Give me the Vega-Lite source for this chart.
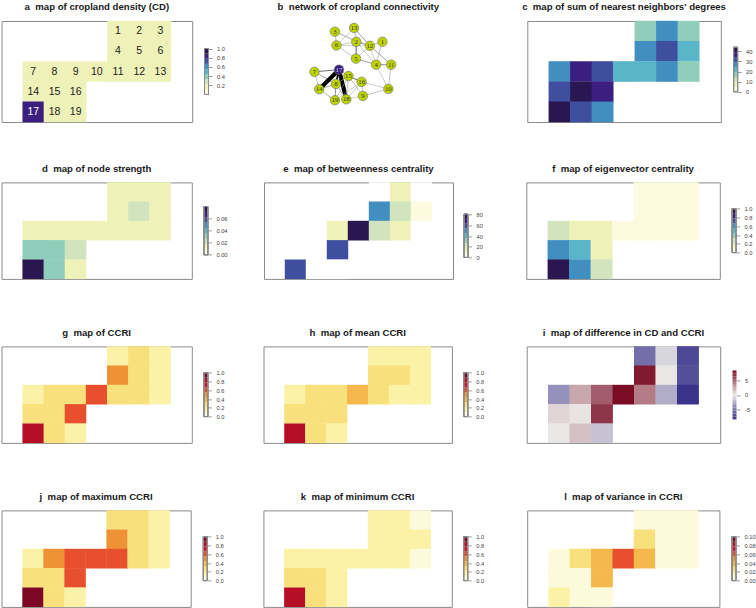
{"$schema":"https://vega.github.io/schema/vega-lite/v6.json","padding":{"left":0.5,"top":1,"right":0,"bottom":0},"background":"white",
"config":{"view":{"stroke":"#8a8a8a","strokeWidth":1},"title":{"font":"Liberation Sans","fontSize":9.6,"fontWeight":"bold","color":"#1a1a1a","offset":9,"anchor":"middle"},"axis":{"domain":false,"grid":false,"tickSize":3.5,"tickWidth":0.6,"tickColor":"#555555","labelFont":"Liberation Sans","labelFontSize":5.7,"labelColor":"#444444","labelPadding":4.5,"labelFlush":false,"labelBound":false}},
"datasets":{
"cells":[
{"cell":1,"col":4,"row":0,"cd":0.15,"snn":17.1,"strength":0.0133,"betweenness":0,"eigen":0.056,"ccri":0.167,"mean":0.167,"diff":-5.6,"max":0.278,"min":0.167,"variance":0.0056},
{"cell":2,"col":5,"row":0,"cd":0.15,"snn":26.9,"strength":0.0133,"betweenness":13.5,"eigen":0.056,"ccri":0.278,"mean":0.167,"diff":-0.8,"max":0.278,"min":0.167,"variance":0.0056},
{"cell":3,"col":6,"row":0,"cd":0.15,"snn":17.1,"strength":0.0133,"betweenness":0,"eigen":0.056,"ccri":0.167,"mean":0.167,"diff":-7.4,"max":0.167,"min":0.056,"variance":0.0056},
{"cell":4,"col":4,"row":1,"cd":0.15,"snn":26.9,"strength":0.0133,"betweenness":49.5,"eigen":0.056,"ccri":0.5,"mean":0.278,"diff":8.0,"max":0.5,"min":0.167,"variance":0.0278},
{"cell":5,"col":5,"row":1,"cd":0.15,"snn":31.8,"strength":0.0222,"betweenness":22.5,"eigen":0.056,"ccri":0.278,"mean":0.278,"diff":0,"max":0.278,"min":0.167,"variance":0.0056},
{"cell":6,"col":6,"row":1,"cd":0.15,"snn":22,"strength":0.0133,"betweenness":4.5,"eigen":0.056,"ccri":0.167,"mean":0.167,"diff":-7.1,"max":0.167,"min":0.167,"variance":0.0056},
{"cell":7,"col":0,"row":2,"cd":0.15,"snn":26.9,"strength":0.0133,"betweenness":0,"eigen":0.278,"ccri":0.167,"mean":0.167,"diff":-4,"max":0.167,"min":0.167,"variance":0.0056},
{"cell":8,"col":1,"row":2,"cd":0.15,"snn":36.7,"strength":0.0133,"betweenness":0,"eigen":0.167,"ccri":0.278,"mean":0.278,"diff":2.5,"max":0.5,"min":0.167,"variance":0.0278},
{"cell":9,"col":2,"row":2,"cd":0.15,"snn":31.8,"strength":0.0133,"betweenness":13.5,"eigen":0.167,"ccri":0.278,"mean":0.278,"diff":5.4,"max":0.611,"min":0.167,"variance":0.0389},
{"cell":10,"col":3,"row":2,"cd":0.15,"snn":22,"strength":0.0133,"betweenness":76.5,"eigen":0.056,"ccri":0.611,"mean":0.389,"diff":8.5,"max":0.611,"min":0.167,"variance":0.0611},
{"cell":11,"col":4,"row":2,"cd":0.15,"snn":22,"strength":0.0133,"betweenness":22.5,"eigen":0.056,"ccri":0.278,"mean":0.278,"diff":4.2,"max":0.611,"min":0.167,"variance":0.0389},
{"cell":12,"col":5,"row":2,"cd":0.15,"snn":26.9,"strength":0.0133,"betweenness":13.5,"eigen":0.056,"ccri":0.278,"mean":0.167,"diff":-2.7,"max":0.278,"min":0.167,"variance":0.0056},
{"cell":13,"col":6,"row":2,"cd":0.15,"snn":17.1,"strength":0.0133,"betweenness":0,"eigen":0.056,"ccri":0.167,"mean":0.167,"diff":-8.4,"max":0.167,"min":0.056,"variance":0.0056},
{"cell":14,"col":0,"row":3,"cd":0.15,"snn":31.8,"strength":0.0311,"betweenness":0,"eigen":0.611,"ccri":0.278,"mean":0.278,"diff":0.7,"max":0.278,"min":0.278,"variance":0.0056},
{"cell":15,"col":1,"row":3,"cd":0.15,"snn":41.6,"strength":0.0311,"betweenness":0,"eigen":0.5,"ccri":0.278,"mean":0.278,"diff":0.1,"max":0.278,"min":0.278,"variance":0.0056},
{"cell":16,"col":2,"row":3,"cd":0.15,"snn":36.7,"strength":0.0222,"betweenness":58.5,"eigen":0.167,"ccri":0.611,"mean":0.278,"diff":6.9,"max":0.611,"min":0.167,"variance":0.0389},
{"cell":17,"col":0,"row":4,"cd":0.83,"snn":41.6,"strength":0.0756,"betweenness":58.5,"eigen":0.944,"ccri":0.833,"mean":0.833,"diff":0,"max":0.944,"min":0.833,"variance":0.0167},
{"cell":18,"col":1,"row":4,"cd":0.15,"snn":31.8,"strength":0.0311,"betweenness":0,"eigen":0.611,"ccri":0.278,"mean":0.278,"diff":1.5,"max":0.278,"min":0.278,"variance":0.0056},
{"cell":19,"col":2,"row":4,"cd":0.15,"snn":26.9,"strength":0.0133,"betweenness":0,"eigen":0.278,"ccri":0.167,"mean":0.167,"diff":-1.7,"max":0.167,"min":0.167,"variance":0.0056}],
"unitBins":[{"lo":0,"hi":0.111,"mid":0.056},{"lo":0.111,"hi":0.222,"mid":0.167},{"lo":0.222,"hi":0.333,"mid":0.278},{"lo":0.333,"hi":0.444,"mid":0.389},{"lo":0.444,"hi":0.556,"mid":0.5},{"lo":0.556,"hi":0.667,"mid":0.611},{"lo":0.667,"hi":0.778,"mid":0.722},{"lo":0.778,"hi":0.889,"mid":0.833},{"lo":0.889,"hi":1,"mid":0.944}],
"snnBins":[{"lo":0,"hi":4.89,"mid":2.4},{"lo":4.89,"hi":9.78,"mid":7.3},{"lo":9.78,"hi":14.67,"mid":12.2},{"lo":14.67,"hi":19.56,"mid":17.1},{"lo":19.56,"hi":24.44,"mid":22},{"lo":24.44,"hi":29.33,"mid":26.9},{"lo":29.33,"hi":34.22,"mid":31.8},{"lo":34.22,"hi":39.11,"mid":36.7},{"lo":39.11,"hi":44,"mid":41.6}],
"strengthBins":[{"lo":0,"hi":0.00889,"mid":0.0044},{"lo":0.00889,"hi":0.01778,"mid":0.0133},{"lo":0.01778,"hi":0.02667,"mid":0.0222},{"lo":0.02667,"hi":0.03556,"mid":0.0311},{"lo":0.03556,"hi":0.04444,"mid":0.04},{"lo":0.04444,"hi":0.05333,"mid":0.0489},{"lo":0.05333,"hi":0.06222,"mid":0.0578},{"lo":0.06222,"hi":0.07111,"mid":0.0667},{"lo":0.07111,"hi":0.08,"mid":0.0756}],
"betweennessBins":[{"lo":0,"hi":9,"mid":4.5},{"lo":9,"hi":18,"mid":13.5},{"lo":18,"hi":27,"mid":22.5},{"lo":27,"hi":36,"mid":31.5},{"lo":36,"hi":45,"mid":40.5},{"lo":45,"hi":54,"mid":49.5},{"lo":54,"hi":63,"mid":58.5},{"lo":63,"hi":72,"mid":67.5},{"lo":72,"hi":81,"mid":76.5}],
"varianceBins":[{"lo":0,"hi":0.0111,"mid":0.0056},{"lo":0.0111,"hi":0.0222,"mid":0.0167},{"lo":0.0222,"hi":0.0333,"mid":0.0278},{"lo":0.0333,"hi":0.0444,"mid":0.0389},{"lo":0.0444,"hi":0.0556,"mid":0.05},{"lo":0.0556,"hi":0.0667,"mid":0.0611},{"lo":0.0667,"hi":0.0778,"mid":0.0722},{"lo":0.0778,"hi":0.0889,"mid":0.0833},{"lo":0.0889,"hi":0.1,"mid":0.0944}],
"diffBins":[{"lo":-8.5,"hi":-7.5,"mid":-8},{"lo":-7.5,"hi":-6.5,"mid":-7},{"lo":-6.5,"hi":-5.5,"mid":-6},{"lo":-5.5,"hi":-4.5,"mid":-5},{"lo":-4.5,"hi":-3.5,"mid":-4},{"lo":-3.5,"hi":-2.5,"mid":-3},{"lo":-2.5,"hi":-1.5,"mid":-2},{"lo":-1.5,"hi":-0.5,"mid":-1},{"lo":-0.5,"hi":0.5,"mid":0},{"lo":0.5,"hi":1.5,"mid":1},{"lo":1.5,"hi":2.5,"mid":2},{"lo":2.5,"hi":3.5,"mid":3},{"lo":3.5,"hi":4.5,"mid":4},{"lo":4.5,"hi":5.5,"mid":5},{"lo":5.5,"hi":6.5,"mid":6},{"lo":6.5,"hi":7.5,"mid":7},{"lo":7.5,"hi":8.5,"mid":8}],
"nodes":[{"id":1,"x":125.5,"y":22.6},{"id":2,"x":97.8,"y":22.6},{"id":3,"x":75.2,"y":11.6},{"id":4,"x":118.8,"y":47.6},{"id":5,"x":97.5,"y":41},{"id":6,"x":76.8,"y":26.6},{"id":7,"x":53.5,"y":55.3},{"id":8,"x":76.2,"y":68.6},{"id":9,"x":104.8,"y":81.6},{"id":10,"x":131.8,"y":74},{"id":11,"x":134.8,"y":47.6},{"id":12,"x":112.2,"y":27},{"id":13,"x":95.5,"y":7.6},{"id":14,"x":58.5,"y":74.3},{"id":15,"x":89.5,"y":60},{"id":16,"x":103.5,"y":66.3},{"id":17,"x":79.5,"y":53},{"id":18,"x":87.2,"y":85.3},{"id":19,"x":75.2,"y":86.3}],
"edges":[{"from":3,"to":6,"weight":0.06},{"from":3,"to":2,"weight":0.06},{"from":3,"to":12,"weight":0.04},{"from":13,"to":2,"weight":0.06},{"from":13,"to":12,"weight":0.1},{"from":13,"to":6,"weight":0.05},{"from":6,"to":2,"weight":0.06},{"from":6,"to":12,"weight":0.05},{"from":6,"to":5,"weight":0.06},{"from":2,"to":12,"weight":0.1},{"from":2,"to":5,"weight":0.16},{"from":12,"to":1,"weight":0.08},{"from":12,"to":5,"weight":0.06},{"from":12,"to":4,"weight":0.05},{"from":12,"to":11,"weight":0.1},{"from":1,"to":4,"weight":0.06},{"from":5,"to":4,"weight":0.1},{"from":4,"to":11,"weight":0.12},{"from":2,"to":4,"weight":0.05},{"from":4,"to":10,"weight":0.05},{"from":11,"to":10,"weight":0.06},{"from":7,"to":17,"weight":0.15},{"from":7,"to":14,"weight":0.06},{"from":7,"to":8,"weight":0.1},{"from":17,"to":15,"weight":0.12},{"from":17,"to":8,"weight":0.35},{"from":17,"to":14,"weight":1},{"from":17,"to":18,"weight":1},{"from":14,"to":8,"weight":0.1},{"from":14,"to":19,"weight":0.08},{"from":8,"to":19,"weight":0.12},{"from":8,"to":18,"weight":0.08},{"from":8,"to":15,"weight":0.08},{"from":15,"to":16,"weight":0.15},{"from":15,"to":9,"weight":0.06},{"from":15,"to":18,"weight":0.06},{"from":15,"to":19,"weight":0.06},{"from":16,"to":9,"weight":0.06},{"from":16,"to":18,"weight":0.05},{"from":16,"to":19,"weight":0.05},{"from":16,"to":10,"weight":0.05},{"from":9,"to":10,"weight":0.06},{"from":9,"to":18,"weight":0.05}]
},
"spacing":39.4,"resolve":{"scale":{"color":"independent"}},
"vconcat":[
{"spacing":67.8,"resolve":{"scale":{"color":"independent"}},"hconcat":[
{"spacing":39.5,"resolve":{"scale":{"color":"independent"}},"hconcat":[
{"bounds":"flush","spacing":12,"resolve":{"scale":{"color":"independent"}},"hconcat":[
{"title":"a\u00a0\u00a0map of cropland density (CD)","width":190.7,"height":101,"data":{"name":"cells"},"encoding":{"x":{"field":"col","type":"ordinal","scale":{"type":"band","domain":[0,1,2,3,4,5,6],"paddingInner":0,"paddingOuter":1.23},"axis":null},"y":{"field":"row","type":"ordinal","scale":{"type":"band","domain":[0,1,2,3,4],"padding":0},"axis":null}},"layer":[{"mark":{"type":"rect","width":{"band":1.02},"height":{"band":1.02}},"encoding":{"color":{"field":"cd","type":"quantitative","legend":null,"scale":{"type":"threshold","domain":[0.111,0.222,0.333,0.444,0.556,0.667,0.778,0.889],"range":["#fcfbdf","#eef2b8","#d1e4bd","#90cdbb","#5bb5c8","#418fc0","#3f4e9f","#3a1f80","#2a1650"]}}}},{"mark":{"type":"text","font":"Liberation Sans","fontSize":10.5},"encoding":{"text":{"field":"cell","type":"nominal"},"color":{"condition":{"test":"datum.cell===17","value":"#ffffff"},"value":"#222222"}}}]},
{"width":4,"height":101,"view":{"stroke":null},"data":{"name":"unitBins"},"layer":[{"mark":"rect","encoding":{"y":{"field":"lo","type":"quantitative","scale":{"domain":[-0.493,1.499]},"axis":{"orient":"right","title":null,"labelOverlap":false,"values":[0.2,0.4,0.6,0.8,1],"format":".1f"}},"y2":{"field":"hi"},"color":{"field":"mid","type":"quantitative","legend":null,"scale":{"type":"threshold","domain":[0.111,0.222,0.333,0.444,0.556,0.667,0.778,0.889],"range":["#fcfbdf","#eef2b8","#d1e4bd","#90cdbb","#5bb5c8","#418fc0","#3f4e9f","#3a1f80","#2a1650"]}}}},{"mark":{"type":"rect","fill":null,"stroke":"#8a8a8a","strokeWidth":0.5},"encoding":{"y":{"datum":0,"axis":{"orient":"right","title":null,"labelOverlap":false,"values":[0.2,0.4,0.6,0.8,1],"format":".1f"}},"y2":{"datum":1}}}]}
]},
{"title":"b\u00a0\u00a0network of cropland connectivity","width":188.7,"height":101,"view":{"stroke":null},"layer":[
{"data":{"name":"edges"},"transform":[{"lookup":"from","from":{"data":{"name":"nodes"},"key":"id","fields":["x","y"]},"as":["x1","y1"]},{"lookup":"to","from":{"data":{"name":"nodes"},"key":"id","fields":["x","y"]},"as":["x2","y2"]}],"mark":"rule","encoding":{"x":{"field":"x1","type":"quantitative","scale":{"domain":[0,188.7]},"axis":null},"y":{"field":"y1","type":"quantitative","scale":{"domain":[101,0]},"axis":null},"x2":{"field":"x2"},"y2":{"field":"y2"},"size":{"field":"weight","type":"quantitative","legend":null,"scale":{"domain":[0,1],"range":[0.35,4.2]}},"color":{"field":"weight","type":"quantitative","legend":null,"scale":{"domain":[0.04,0.3],"range":["#aaaaaa","#000000"],"clamp":true}}}},
{"data":{"name":"nodes"},"mark":{"type":"point","filled":true,"opacity":1,"stroke":"#6e6e6e","strokeWidth":0.6},"encoding":{"x":{"field":"x","type":"quantitative"},"y":{"field":"y","type":"quantitative"},"size":{"value":90},"color":{"condition":{"test":"datum.id===17","value":"#3a1f80"},"value":"#bcd400"}}},
{"data":{"name":"nodes"},"mark":{"type":"text","font":"Liberation Serif","fontSize":6.8},"encoding":{"x":{"field":"x","type":"quantitative"},"y":{"field":"y","type":"quantitative"},"text":{"field":"id","type":"nominal"},"color":{"condition":{"test":"datum.id===17","value":"#d8d8e8"},"value":"#333333"}}}
]}
]},
{"bounds":"flush","spacing":12.3,"resolve":{"scale":{"color":"independent"}},"hconcat":[
{"title":"c\u00a0\u00a0map of sum of nearest neighbors' degrees","width":193.5,"height":101,"data":{"name":"cells"},"mark":{"type":"rect","width":{"band":1.02},"height":{"band":1.02}},"encoding":{"x":{"field":"col","type":"ordinal","scale":{"type":"band","domain":[0,1,2,3,4,5,6],"paddingInner":0,"paddingOuter":1.23},"axis":null},"y":{"field":"row","type":"ordinal","scale":{"type":"band","domain":[0,1,2,3,4],"padding":0},"axis":null},"color":{"field":"snn","type":"quantitative","legend":null,"scale":{"type":"threshold","domain":[4.89,9.78,14.67,19.56,24.44,29.33,34.22,39.11],"range":["#fcfbdf","#eef2b8","#d1e4bd","#90cdbb","#5bb5c8","#418fc0","#3f4e9f","#3a1f80","#2a1650"]}}}},
{"width":4,"height":101,"view":{"stroke":null},"data":{"name":"snnBins"},"layer":[{"mark":"rect","encoding":{"y":{"field":"lo","type":"quantitative","scale":{"domain":[-21.7,66]},"axis":{"orient":"right","title":null,"labelOverlap":false,"values":[0,10,20,30,40],"format":"d"}},"y2":{"field":"hi"},"color":{"field":"mid","type":"quantitative","legend":null,"scale":{"type":"threshold","domain":[4.89,9.78,14.67,19.56,24.44,29.33,34.22,39.11],"range":["#fcfbdf","#eef2b8","#d1e4bd","#90cdbb","#5bb5c8","#418fc0","#3f4e9f","#3a1f80","#2a1650"]}}}},{"mark":{"type":"rect","fill":null,"stroke":"#8a8a8a","strokeWidth":0.5},"encoding":{"y":{"datum":0,"axis":{"orient":"right","title":null,"labelOverlap":false,"values":[0,10,20,30,40],"format":"d"}},"y2":{"datum":44}}}]}
]}
]},
{"spacing":46,"resolve":{"scale":{"color":"independent"}},"vconcat":[
{"spacing":42.8,"resolve":{"scale":{"color":"independent"}},"hconcat":[
{"spacing":35.5,"resolve":{"scale":{"color":"independent"}},"hconcat":[
{"bounds":"flush","spacing":11.4,"resolve":{"scale":{"color":"independent"}},"hconcat":[
{"title":"d\u00a0\u00a0map of node strength","width":190.3,"height":96.5,"data":{"name":"cells"},"mark":{"type":"rect","width":{"band":1.02},"height":{"band":1.02}},"encoding":{"x":{"field":"col","type":"ordinal","scale":{"type":"band","domain":[0,1,2,3,4,5,6],"paddingInner":0,"paddingOuter":1.23},"axis":null},"y":{"field":"row","type":"ordinal","scale":{"type":"band","domain":[0,1,2,3,4],"padding":0},"axis":null},"color":{"field":"strength","type":"quantitative","legend":null,"scale":{"type":"threshold","domain":[0.00889,0.01778,0.02667,0.03556,0.04444,0.05333,0.06222,0.07111],"range":["#fcfbdf","#eef2b8","#d1e4bd","#90cdbb","#5bb5c8","#418fc0","#3f4e9f","#3a1f80","#2a1650"]}}}},
{"width":4,"height":96.5,"view":{"stroke":null},"data":{"name":"strengthBins"},"layer":[{"mark":"rect","encoding":{"y":{"field":"lo","type":"quantitative","scale":{"domain":[-0.0384,0.1192]},"axis":{"orient":"right","title":null,"labelOverlap":false,"values":[0,0.02,0.04,0.06],"format":".2f"}},"y2":{"field":"hi"},"color":{"field":"mid","type":"quantitative","legend":null,"scale":{"type":"threshold","domain":[0.00889,0.01778,0.02667,0.03556,0.04444,0.05333,0.06222,0.07111],"range":["#fcfbdf","#eef2b8","#d1e4bd","#90cdbb","#5bb5c8","#418fc0","#3f4e9f","#3a1f80","#2a1650"]}}}},{"mark":{"type":"rect","fill":null,"stroke":"#8a8a8a","strokeWidth":0.5},"encoding":{"y":{"datum":0,"axis":{"orient":"right","title":null,"labelOverlap":false,"values":[0,0.02,0.04,0.06],"format":".2f"}},"y2":{"datum":0.08}}}]}
]},
{"bounds":"flush","spacing":11,"resolve":{"scale":{"color":"independent"}},"hconcat":[
{"title":"e\u00a0\u00a0map of betweenness centrality","width":189,"height":96.5,"data":{"name":"cells"},"mark":{"type":"rect","width":{"band":1.02},"height":{"band":1.02}},"encoding":{"x":{"field":"col","type":"ordinal","scale":{"type":"band","domain":[0,1,2,3,4,5,6],"paddingInner":0,"paddingOuter":1.23},"axis":null},"y":{"field":"row","type":"ordinal","scale":{"type":"band","domain":[0,1,2,3,4],"padding":0},"axis":null},"color":{"field":"betweenness","type":"quantitative","legend":null,"scale":{"type":"threshold","domain":[0.5,9,18,27,36,45,54,63,72],"range":["#ffffff","#fcfbdf","#eef2b8","#d1e4bd","#90cdbb","#5bb5c8","#418fc0","#3f4e9f","#3a1f80","#2a1650"]}}}},
{"width":4,"height":96.5,"view":{"stroke":null},"data":{"name":"betweennessBins"},"layer":[{"mark":"rect","encoding":{"y":{"field":"lo","type":"quantitative","scale":{"domain":[-38.8,120.7]},"axis":{"orient":"right","title":null,"labelOverlap":false,"values":[0,20,40,60,80],"format":"d"}},"y2":{"field":"hi"},"color":{"field":"mid","type":"quantitative","legend":null,"scale":{"type":"threshold","domain":[0.5,9,18,27,36,45,54,63,72],"range":["#ffffff","#fcfbdf","#eef2b8","#d1e4bd","#90cdbb","#5bb5c8","#418fc0","#3f4e9f","#3a1f80","#2a1650"]}}}},{"mark":{"type":"rect","fill":null,"stroke":"#8a8a8a","strokeWidth":0.5},"encoding":{"y":{"datum":0,"axis":{"orient":"right","title":null,"labelOverlap":false,"values":[0,20,40,60,80],"format":"d"}},"y2":{"datum":81}}}]}
]}
]},
{"bounds":"flush","spacing":11.8,"resolve":{"scale":{"color":"independent"}},"hconcat":[
{"title":"f\u00a0\u00a0map of eigenvector centrality","width":193.5,"height":96.5,"data":{"name":"cells"},"mark":{"type":"rect","width":{"band":1.02},"height":{"band":1.02}},"encoding":{"x":{"field":"col","type":"ordinal","scale":{"type":"band","domain":[0,1,2,3,4,5,6],"paddingInner":0,"paddingOuter":1.23},"axis":null},"y":{"field":"row","type":"ordinal","scale":{"type":"band","domain":[0,1,2,3,4],"padding":0},"axis":null},"color":{"field":"eigen","type":"quantitative","legend":null,"scale":{"type":"threshold","domain":[0.111,0.222,0.333,0.444,0.556,0.667,0.778,0.889],"range":["#fcfbdf","#eef2b8","#d1e4bd","#90cdbb","#5bb5c8","#418fc0","#3f4e9f","#3a1f80","#2a1650"]}}}},
{"width":4,"height":96.5,"view":{"stroke":null},"data":{"name":"unitBins"},"layer":[{"mark":"rect","encoding":{"y":{"field":"lo","type":"quantitative","scale":{"domain":[-0.48,1.49]},"axis":{"orient":"right","title":null,"labelOverlap":false,"values":[0,0.2,0.4,0.6,0.8,1],"format":".1f"}},"y2":{"field":"hi"},"color":{"field":"mid","type":"quantitative","legend":null,"scale":{"type":"threshold","domain":[0.111,0.222,0.333,0.444,0.556,0.667,0.778,0.889],"range":["#fcfbdf","#eef2b8","#d1e4bd","#90cdbb","#5bb5c8","#418fc0","#3f4e9f","#3a1f80","#2a1650"]}}}},{"mark":{"type":"rect","fill":null,"stroke":"#8a8a8a","strokeWidth":0.5},"encoding":{"y":{"datum":0,"axis":{"orient":"right","title":null,"labelOverlap":false,"values":[0,0.2,0.4,0.6,0.8,1],"format":".1f"}},"y2":{"datum":1}}}]}
]}
]},
{"spacing":41.2,"resolve":{"scale":{"color":"independent"}},"hconcat":[
{"spacing":38,"resolve":{"scale":{"color":"independent"}},"hconcat":[
{"bounds":"flush","spacing":11.4,"resolve":{"scale":{"color":"independent"}},"hconcat":[
{"title":"g\u00a0\u00a0map of CCRI","width":190.3,"height":96.5,"data":{"name":"cells"},"mark":{"type":"rect","width":{"band":1.02},"height":{"band":1.02}},"encoding":{"x":{"field":"col","type":"ordinal","scale":{"type":"band","domain":[0,1,2,3,4,5,6],"paddingInner":0,"paddingOuter":1.23},"axis":null},"y":{"field":"row","type":"ordinal","scale":{"type":"band","domain":[0,1,2,3,4],"padding":0},"axis":null},"color":{"field":"ccri","type":"quantitative","legend":null,"scale":{"type":"threshold","domain":[0.111,0.222,0.333,0.444,0.556,0.667,0.778,0.889],"range":["#fdfadc","#fbf2a8","#f8e07c","#f5b84c","#ef9236","#e84f2d","#d8122a","#b50e25","#7d0825"]}}}},
{"width":4,"height":96.5,"view":{"stroke":null},"data":{"name":"unitBins"},"layer":[{"mark":"rect","encoding":{"y":{"field":"lo","type":"quantitative","scale":{"domain":[-0.48,1.49]},"axis":{"orient":"right","title":null,"labelOverlap":false,"values":[0,0.2,0.4,0.6,0.8,1],"format":".1f"}},"y2":{"field":"hi"},"color":{"field":"mid","type":"quantitative","legend":null,"scale":{"type":"threshold","domain":[0.111,0.222,0.333,0.444,0.556,0.667,0.778,0.889],"range":["#fdfadc","#fbf2a8","#f8e07c","#f5b84c","#ef9236","#e84f2d","#d8122a","#b50e25","#7d0825"]}}}},{"mark":{"type":"rect","fill":null,"stroke":"#8a8a8a","strokeWidth":0.5},"encoding":{"y":{"datum":0,"axis":{"orient":"right","title":null,"labelOverlap":false,"values":[0,0.2,0.4,0.6,0.8,1],"format":".1f"}},"y2":{"datum":1}}}]}
]},
{"bounds":"flush","spacing":11.3,"resolve":{"scale":{"color":"independent"}},"hconcat":[
{"title":"h\u00a0\u00a0map of mean CCRI","width":188.4,"height":96.5,"data":{"name":"cells"},"mark":{"type":"rect","width":{"band":1.02},"height":{"band":1.02}},"encoding":{"x":{"field":"col","type":"ordinal","scale":{"type":"band","domain":[0,1,2,3,4,5,6],"paddingInner":0,"paddingOuter":1.23},"axis":null},"y":{"field":"row","type":"ordinal","scale":{"type":"band","domain":[0,1,2,3,4],"padding":0},"axis":null},"color":{"field":"mean","type":"quantitative","legend":null,"scale":{"type":"threshold","domain":[0.111,0.222,0.333,0.444,0.556,0.667,0.778,0.889],"range":["#fdfadc","#fbf2a8","#f8e07c","#f5b84c","#ef9236","#e84f2d","#d8122a","#b50e25","#7d0825"]}}}},
{"width":4,"height":96.5,"view":{"stroke":null},"data":{"name":"unitBins"},"layer":[{"mark":"rect","encoding":{"y":{"field":"lo","type":"quantitative","scale":{"domain":[-0.48,1.49]},"axis":{"orient":"right","title":null,"labelOverlap":false,"values":[0,0.2,0.4,0.6,0.8,1],"format":".1f"}},"y2":{"field":"hi"},"color":{"field":"mid","type":"quantitative","legend":null,"scale":{"type":"threshold","domain":[0.111,0.222,0.333,0.444,0.556,0.667,0.778,0.889],"range":["#fdfadc","#fbf2a8","#f8e07c","#f5b84c","#ef9236","#e84f2d","#d8122a","#b50e25","#7d0825"]}}}},{"mark":{"type":"rect","fill":null,"stroke":"#8a8a8a","strokeWidth":0.5},"encoding":{"y":{"datum":0,"axis":{"orient":"right","title":null,"labelOverlap":false,"values":[0,0.2,0.4,0.6,0.8,1],"format":".1f"}},"y2":{"datum":1}}}]}
]}
]},
{"bounds":"flush","spacing":11.8,"resolve":{"scale":{"color":"independent"}},"hconcat":[
{"title":"i\u00a0\u00a0map of difference in CD and CCRI","width":193.5,"height":96.5,"data":{"name":"cells"},"mark":{"type":"rect","width":{"band":1.02},"height":{"band":1.02}},"encoding":{"x":{"field":"col","type":"ordinal","scale":{"type":"band","domain":[0,1,2,3,4,5,6],"paddingInner":0,"paddingOuter":1.23},"axis":null},"y":{"field":"row","type":"ordinal","scale":{"type":"band","domain":[0,1,2,3,4],"padding":0},"axis":null},"color":{"field":"diff","type":"quantitative","legend":null,"scale":{"type":"linear","domain":[-8.5,0,8.5],"range":["#38308a","#e9e7e6","#7a0c24"],"interpolate":"rgb"}}}},
{"width":4,"height":96.5,"view":{"stroke":null},"data":{"name":"diffBins"},"layer":[{"mark":"rect","encoding":{"y":{"field":"lo","type":"quantitative","scale":{"domain":[-16.65,16.83]},"axis":{"orient":"right","title":null,"labelOverlap":false,"values":[-5,0,5],"labelExpr":"''+datum.value"}},"y2":{"field":"hi"},"color":{"field":"mid","type":"quantitative","legend":null,"scale":{"type":"linear","domain":[-8.5,0,8.5],"range":["#38308a","#e9e7e6","#7a0c24"],"interpolate":"rgb"}}}}]}
]}
]},
{"spacing":41.7,"resolve":{"scale":{"color":"independent"}},"hconcat":[
{"spacing":38.9,"resolve":{"scale":{"color":"independent"}},"hconcat":[
{"bounds":"flush","spacing":11.8,"resolve":{"scale":{"color":"independent"}},"hconcat":[
{"title":"j\u00a0\u00a0map of maximum CCRI","width":189.2,"height":96.5,"data":{"name":"cells"},"mark":{"type":"rect","width":{"band":1.02},"height":{"band":1.02}},"encoding":{"x":{"field":"col","type":"ordinal","scale":{"type":"band","domain":[0,1,2,3,4,5,6],"paddingInner":0,"paddingOuter":1.23},"axis":null},"y":{"field":"row","type":"ordinal","scale":{"type":"band","domain":[0,1,2,3,4],"padding":0},"axis":null},"color":{"field":"max","type":"quantitative","legend":null,"scale":{"type":"threshold","domain":[0.111,0.222,0.333,0.444,0.556,0.667,0.778,0.889],"range":["#fdfadc","#fbf2a8","#f8e07c","#f5b84c","#ef9236","#e84f2d","#d8122a","#b50e25","#7d0825"]}}}},
{"width":4,"height":96.5,"view":{"stroke":null},"data":{"name":"unitBins"},"layer":[{"mark":"rect","encoding":{"y":{"field":"lo","type":"quantitative","scale":{"domain":[-0.48,1.49]},"axis":{"orient":"right","title":null,"labelOverlap":false,"values":[0,0.2,0.4,0.6,0.8,1],"format":".1f"}},"y2":{"field":"hi"},"color":{"field":"mid","type":"quantitative","legend":null,"scale":{"type":"threshold","domain":[0.111,0.222,0.333,0.444,0.556,0.667,0.778,0.889],"range":["#fdfadc","#fbf2a8","#f8e07c","#f5b84c","#ef9236","#e84f2d","#d8122a","#b50e25","#7d0825"]}}}},{"mark":{"type":"rect","fill":null,"stroke":"#8a8a8a","strokeWidth":0.5},"encoding":{"y":{"datum":0,"axis":{"orient":"right","title":null,"labelOverlap":false,"values":[0,0.2,0.4,0.6,0.8,1],"format":".1f"}},"y2":{"datum":1}}}]}
]},
{"bounds":"flush","spacing":11.3,"resolve":{"scale":{"color":"independent"}},"hconcat":[
{"title":"k\u00a0\u00a0map of minimum CCRI","width":188.4,"height":96.5,"data":{"name":"cells"},"mark":{"type":"rect","width":{"band":1.02},"height":{"band":1.02}},"encoding":{"x":{"field":"col","type":"ordinal","scale":{"type":"band","domain":[0,1,2,3,4,5,6],"paddingInner":0,"paddingOuter":1.23},"axis":null},"y":{"field":"row","type":"ordinal","scale":{"type":"band","domain":[0,1,2,3,4],"padding":0},"axis":null},"color":{"field":"min","type":"quantitative","legend":null,"scale":{"type":"threshold","domain":[0.111,0.222,0.333,0.444,0.556,0.667,0.778,0.889],"range":["#fdfadc","#fbf2a8","#f8e07c","#f5b84c","#ef9236","#e84f2d","#d8122a","#b50e25","#7d0825"]}}}},
{"width":4,"height":96.5,"view":{"stroke":null},"data":{"name":"unitBins"},"layer":[{"mark":"rect","encoding":{"y":{"field":"lo","type":"quantitative","scale":{"domain":[-0.48,1.49]},"axis":{"orient":"right","title":null,"labelOverlap":false,"values":[0,0.2,0.4,0.6,0.8,1],"format":".1f"}},"y2":{"field":"hi"},"color":{"field":"mid","type":"quantitative","legend":null,"scale":{"type":"threshold","domain":[0.111,0.222,0.333,0.444,0.556,0.667,0.778,0.889],"range":["#fdfadc","#fbf2a8","#f8e07c","#f5b84c","#ef9236","#e84f2d","#d8122a","#b50e25","#7d0825"]}}}},{"mark":{"type":"rect","fill":null,"stroke":"#8a8a8a","strokeWidth":0.5},"encoding":{"y":{"datum":0,"axis":{"orient":"right","title":null,"labelOverlap":false,"values":[0,0.2,0.4,0.6,0.8,1],"format":".1f"}},"y2":{"datum":1}}}]}
]}
]},
{"bounds":"flush","spacing":11.8,"resolve":{"scale":{"color":"independent"}},"hconcat":[
{"title":"l\u00a0\u00a0map of variance in CCRI","width":192.2,"height":96.5,"data":{"name":"cells"},"mark":{"type":"rect","width":{"band":1.02},"height":{"band":1.02}},"encoding":{"x":{"field":"col","type":"ordinal","scale":{"type":"band","domain":[0,1,2,3,4,5,6],"paddingInner":0,"paddingOuter":1.23},"axis":null},"y":{"field":"row","type":"ordinal","scale":{"type":"band","domain":[0,1,2,3,4],"padding":0},"axis":null},"color":{"field":"variance","type":"quantitative","legend":null,"scale":{"type":"threshold","domain":[0.0111,0.0222,0.0333,0.0444,0.0556,0.0667,0.0778,0.0889],"range":["#fdfadc","#fbf2a8","#f8e07c","#f5b84c","#ef9236","#e84f2d","#d8122a","#b50e25","#7d0825"]}}}},
{"width":4,"height":96.5,"view":{"stroke":null},"data":{"name":"varianceBins"},"layer":[{"mark":"rect","encoding":{"y":{"field":"lo","type":"quantitative","scale":{"domain":[-0.048,0.149]},"axis":{"orient":"right","title":null,"labelOverlap":false,"values":[0,0.02,0.04,0.06,0.08,0.1],"format":".2f"}},"y2":{"field":"hi"},"color":{"field":"mid","type":"quantitative","legend":null,"scale":{"type":"threshold","domain":[0.0111,0.0222,0.0333,0.0444,0.0556,0.0667,0.0778,0.0889],"range":["#fdfadc","#fbf2a8","#f8e07c","#f5b84c","#ef9236","#e84f2d","#d8122a","#b50e25","#7d0825"]}}}},{"mark":{"type":"rect","fill":null,"stroke":"#8a8a8a","strokeWidth":0.5},"encoding":{"y":{"datum":0,"axis":{"orient":"right","title":null,"labelOverlap":false,"values":[0,0.02,0.04,0.06,0.08,0.1],"format":".2f"}},"y2":{"datum":0.1}}}]}
]}
]}
]}
]}
